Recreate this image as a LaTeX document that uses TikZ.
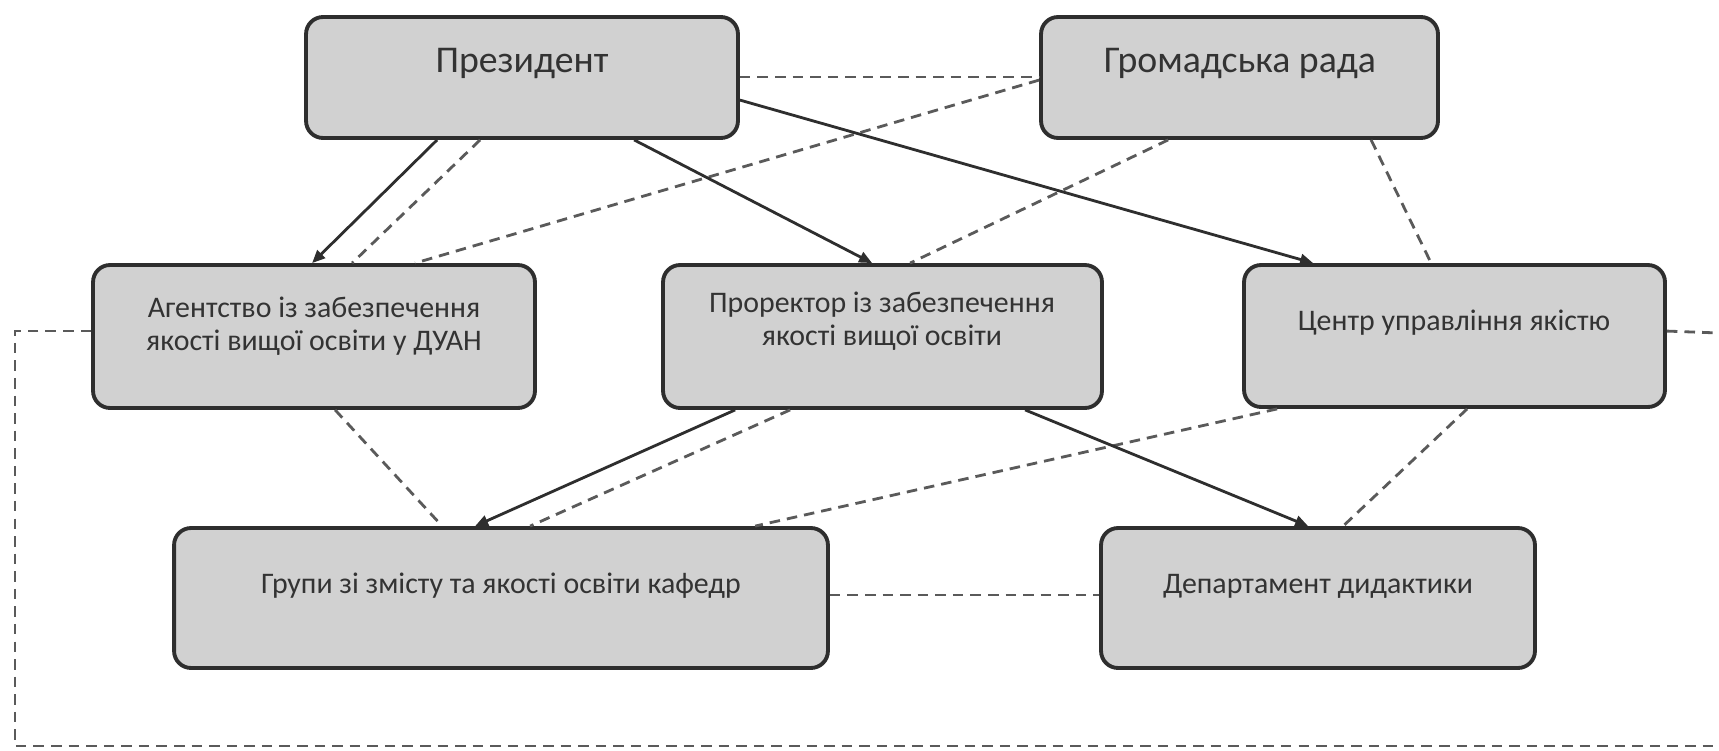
\documentclass[tikz,border=0pt]{standalone}
\usepackage{fontspec}
\setmainfont{Carlito}
\usetikzlibrary{arrows.meta,calc}
\definecolor{boxfill}{HTML}{D1D1D1}
\definecolor{boxline}{HTML}{2E2E2E}
\definecolor{txtcol}{HTML}{333333}
\definecolor{dashcol}{HTML}{5A5A5A}
\begin{document}
\begin{tikzpicture}[x=0.02cm,y=-0.02cm,
 box/.style={draw=boxline, fill=boxfill, line width=2.2pt, rounded corners=0.34cm, inner sep=0pt},
 lbl/.style={text=txtcol, font=\fontsize{17}{19}\selectfont, align=center, inner sep=0pt},
 big/.style={text=txtcol, font=\fontsize{21.5}{24}\selectfont, inner sep=0pt},
 solidarrow/.style={draw=boxline, line width=1.6pt, -{Triangle[length=0.26cm,width=0.22cm]}},
 dashline/.style={draw=dashcol, line width=1.6pt, dash pattern=on 6pt off 4pt}]
\useasboundingbox (0,0) rectangle (1719,750);

% boxes
\node[box, minimum width=8.64cm, minimum height=2.42cm] (P) at (522,77.5) {};
\node[box, minimum width=7.94cm, minimum height=2.42cm] (G) at (1239.5,77.5) {};
\node[box, minimum width=8.84cm, minimum height=2.86cm] (A) at (314,336.5) {};
\node[box, minimum width=8.78cm, minimum height=2.86cm] (R) at (882.5,336.5) {};
\node[box, minimum width=8.42cm, minimum height=2.84cm] (C) at (1454.5,336) {};
\node[box, minimum width=13.08cm, minimum height=2.8cm] (Gr) at (501,598) {};
\node[box, minimum width=8.68cm, minimum height=2.8cm] (D) at (1318,598) {};

% texts
\node[big, anchor=base] (tP) at (522,72) {Президент};
\node[big, anchor=base] (tG) at (1240,72) {Громадська рада};
\node[lbl] (tA) at (314,326) {Агентство із забезпечення\\якості вищої освіти у ДУАН};
\node[lbl] (tR) at (882,321) {Проректор із забезпечення\\якості вищої освіти};
\node[lbl, anchor=base] (tC) at (1454,330) {Центр управління якістю};
\node[lbl, anchor=base] (tGr) at (501,593) {Групи зі змісту та якості освіти кафедр};
\node[lbl, anchor=base] (tD) at (1318,593) {Департамент дидактики};

% free ends of the outer dashed frame
\coordinate (L1) at (15,746);
\coordinate (L2) at (1719,746);
\coordinate (R1) at (1719,333);

% connectors
\draw[solidarrow] ($(P.south west)+(133,0)$) -- ($(A.north west)+(221,0)$);
\draw[dashline] ($(P.south west)+(176,0)$) -- ($(A.north west)+(261,0)$);
\draw[dashline] ($(G.north west)+(0,65)$) -- ($(A.north west)+(324,0)$);
\draw[dashline] ($(P.north east)+(0,62)$) -- ($(G.north west)+(0,62)$);
\draw[solidarrow] ($(P.north east)+(0,85)$) -- ($(C.north west)+(71,0)$);
\draw[solidarrow] ($(P.south west)+(330,0)$) -- ($(R.north west)+(211,0)$);
\draw[dashline] ($(G.south west)+(129,0)$) -- ($(R.north west)+(249,0)$);
\draw[dashline] ($(G.south west)+(332,0)$) -- ($(C.north west)+(189,0)$);
\draw[dashline] ($(A.north west)+(0,68)$) -| (L1) -- (L2);
\draw[dashline] ($(C.north east)+(0,68)$) -- (R1);
\draw[dashline] ($(A.south west)+(244,0)$) -- ($(Gr.north west)+(270,0)$);
\draw[solidarrow] ($(R.south west)+(74,0)$) -- ($(Gr.north west)+(303,0)$);
\draw[dashline] ($(R.south west)+(129,0)$) -- ($(Gr.north west)+(358,0)$);
\draw[dashline] ($(C.south west)+(35,0)$) -- ($(Gr.north west)+(583,0)$);
\draw[dashline] ($(Gr.north east)+(0,69)$) -- ($(D.north west)+(0,69)$);
\draw[solidarrow] ($(R.south west)+(364,0)$) -- ($(D.north west)+(209,0)$);
\draw[dashline] ($(C.south west)+(225,0)$) -- ($(D.north west)+(244,0)$);
\end{tikzpicture}
\end{document}
